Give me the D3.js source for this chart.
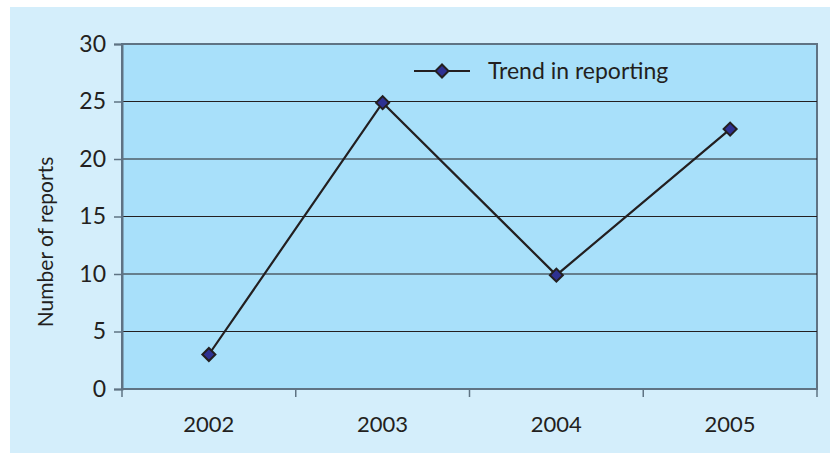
<!DOCTYPE html>
<html>
<head>
<meta charset="utf-8">
<script src="https://cdn.jsdelivr.net/npm/d3@7"></script>
<style>
    body { margin: 0; background: #ffffff; }
    text { font-family: "Lato", "Noto Sans", sans-serif; fill: #231f20; }
</style>
</head>
<body>
<div id="chart"></div>
<script>
// data
var years = ["2002", "2003", "2004", "2005"];
var reports = [3, 24.9, 9.9, 22.6];
var yTicks = [0, 5, 10, 15, 20, 25, 30];
var seriesName = "Trend in reporting";

var width = 830,
    height = 454,
    padding = {top: 44, right: 13, bottom: 65, left: 122};

var svg = d3.select("#chart")
    .append("svg")
    .attr("width", width)
    .attr("height", height);

// outer background
svg.append("rect")
    .attr("x", 10).attr("y", 7)
    .attr("width", width - 10).attr("height", height - 8)
    .attr("fill", "#d4eefb");

var xScale = d3.scaleBand()
    .domain(years)
    .range([padding.left, width - padding.right]);

var yScale = d3.scaleLinear()
    .domain([0, 30])
    .range([height - padding.bottom, padding.top]);

// plot area
svg.append("rect")
    .attr("x", padding.left)
    .attr("y", padding.top)
    .attr("width", width - padding.left - padding.right)
    .attr("height", height - padding.top - padding.bottom)
    .attr("fill", "#a8e0fa")
    .attr("stroke", "#5f7383")
    .attr("stroke-width", 2);

// grid lines
svg.append("g")
    .selectAll("line")
    .data(yTicks.slice(1, -1))
    .enter().append("line")
    .attr("x1", padding.left)
    .attr("x2", width - padding.right)
    .attr("y1", function(d) { return yScale(d); })
    .attr("y2", function(d) { return yScale(d); })
    .attr("stroke", "#231f20")
    .attr("stroke-width", 1.2);

// y axis
var yAxis = d3.axisLeft(yScale)
    .tickValues(yTicks)
    .tickSize(8)
    .tickPadding(8);
var gy = svg.append("g")
    .attr("transform", "translate(" + padding.left + ",0)")
    .call(yAxis);
gy.select(".domain").attr("stroke", "#5f7383").attr("stroke-width", 2);
gy.selectAll(".tick line").attr("stroke", "#5f7383").attr("stroke-width", 1.5);
gy.selectAll("text").attr("font-size", "23px").attr("fill", "#231f20");

// x axis
var bounds = years.map(function(d) { return xScale(d); }).concat([width - padding.right]);
var gx = svg.append("g")
    .attr("transform", "translate(0," + (height - padding.bottom) + ")");
gx.append("line")
    .attr("x1", padding.left).attr("x2", width - padding.right)
    .attr("stroke", "#5f7383").attr("stroke-width", 2);
gx.selectAll(".tk")
    .data(bounds)
    .enter().append("line")
    .attr("x1", function(d) { return d; })
    .attr("x2", function(d) { return d; })
    .attr("y1", 0).attr("y2", 8)
    .attr("stroke", "#5f7383").attr("stroke-width", 1.5);
gx.selectAll(".lbl")
    .data(years)
    .enter().append("text")
    .attr("x", function(d) { return xScale(d) + xScale.bandwidth() / 2; })
    .attr("y", 43)
    .attr("text-anchor", "middle")
    .attr("font-size", "22px")
    .text(function(d) { return d; });

// y label
svg.append("text")
    .attr("transform", "translate(53,242) rotate(-90)")
    .attr("text-anchor", "middle")
    .attr("font-size", "21px")
    .text("Number of reports");

// line
var line = d3.line()
    .x(function(d, i) { return xScale(years[i]) + xScale.bandwidth() / 2; })
    .y(function(d) { return yScale(d); });
svg.append("path")
    .datum(reports)
    .attr("d", line)
    .attr("fill", "none")
    .attr("stroke", "#231f20")
    .attr("stroke-width", 2.2);

var diamond = d3.symbol().type(d3.symbolSquare).size(85);
svg.selectAll(".pt")
    .data(reports)
    .enter().append("path")
    .attr("d", diamond)
    .attr("transform", function(d, i) {
        return "translate(" + (xScale(years[i]) + xScale.bandwidth() / 2) + "," + yScale(d) + ") rotate(45)";
    })
    .attr("fill", "#2e3192")
    .attr("stroke", "#231f20")
    .attr("stroke-width", 2);

// legend
var lg = svg.append("g").attr("transform", "translate(414,71)");
lg.append("line")
    .attr("x1", 0).attr("x2", 56)
    .attr("stroke", "#231f20").attr("stroke-width", 2.2);
lg.append("path")
    .attr("d", diamond)
    .attr("transform", "translate(28,0) rotate(45)")
    .attr("fill", "#2e3192")
    .attr("stroke", "#231f20")
    .attr("stroke-width", 2);
lg.append("text")
    .attr("x", 74)
    .attr("y", 8)
    .attr("font-size", "23px")
    .text(seriesName);
</script>
</body>
</html>
